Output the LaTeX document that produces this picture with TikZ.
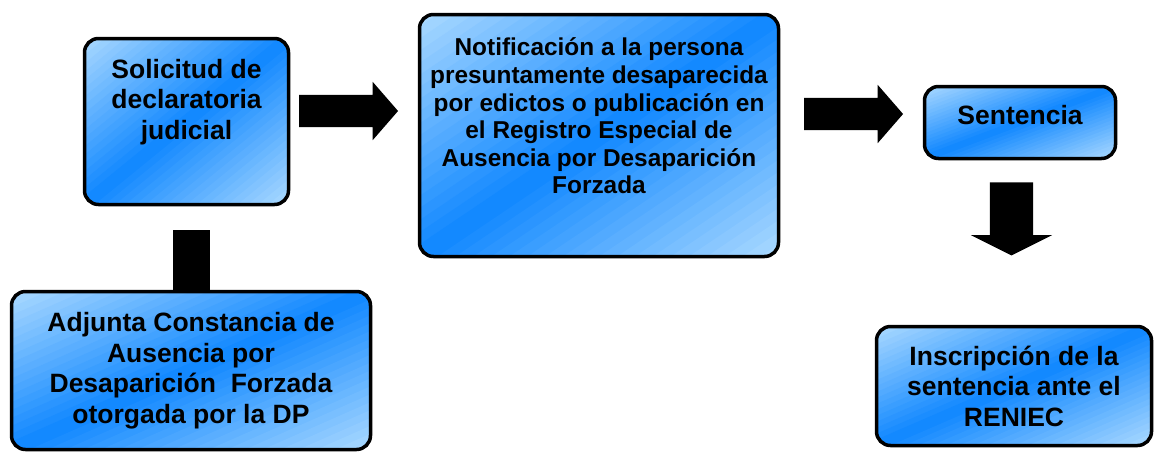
\documentclass[tikz,border=0pt]{standalone}
\usepackage{fontspec}
\setmainfont{Liberation Sans}
\usetikzlibrary{shapes.arrows,positioning}
\definecolor{lite}{RGB}{172,218,255}
\definecolor{deep}{RGB}{15,135,255}
\tikzset{
  box/.style={draw=black,line width=3.5pt,rounded corners=14pt},
  lbl/.style={align=center,inner sep=0pt,font=\bfseries\fontsize{26.5}{30.5}\selectfont},
  small lbl/.style={lbl,font=\bfseries\fontsize{24.4}{27.6}\selectfont},
  blockarrow/.style={single arrow,fill=black,inner xsep=0pt,inner ysep=16pt,single arrow head extend=13pt,single arrow tip angle=98,minimum height=99pt}
}
\begin{document}
\begin{tikzpicture}[x=1pt,y=-1pt]
\useasboundingbox (0,0) rectangle (1155,453);
% diagonal gradient of the boxes: light corners, deep band from lower left to upper right
\foreach \cx/\cy/\w/\h in {186.5/121.5/204/166,599/135.5/359/242,1020/122.5/191/72,191/370.5/359/158,1014/386/275/119}{
  \begin{scope}
    \clip[rounded corners=14pt] ({\cx-\w/2},{\cy-\h/2}) rectangle ({\cx+\w/2},{\cy+\h/2});
    \foreach \k in {0,...,39}{
      \pgfmathsetmacro\ga{\k/20}
      \pgfmathsetmacro\gb{(\k+1.3)/20}
      \pgfmathsetmacro\pc{100-abs(\k+0.5-20)*5}
      \fill[deep!\pc!lite] ({\cx-\w/2+(\ga+1)*\w},{\cy-1.5*\h}) -- ({\cx-\w/2+(\gb+1)*\w},{\cy-1.5*\h}) -- ({\cx-\w/2+(\gb-2)*\w},{\cy+1.5*\h}) -- ({\cx-\w/2+(\ga-2)*\w},{\cy+1.5*\h}) -- cycle;
    }
  \end{scope}
}
% boxes
\node[box,minimum width=204pt,minimum height=166pt] (sol) at (186.5,121.5) {};
\node[box,minimum width=359pt,minimum height=242pt] (noti) at (599,135.5) {};
\node[box,minimum width=191pt,minimum height=72pt] (sen) at (1020,122.5) {};
\node[box,lbl,minimum width=359pt,minimum height=158pt] (adj) at (191,370.5) {Adjunta Constancia de\\Ausencia por\\Desaparición\ \ Forzada\\otorgada por la DP};
\node[box,lbl,minimum width=275pt,minimum height=119pt] (ins) at (1014,386) {Inscripción de la\\sentencia ante el\\RENIEC};
% texts of the upper boxes
\node[lbl,below=22pt of sol.north] (solt) {Solicitud de\\declaratoria\\judicial};
\node[small lbl,below=25pt of noti.north] (notit) {Notificación a la persona\\presuntamente desaparecida\\por edictos o publicación en\\el Registro Especial de\\Ausencia por Desaparición\\Forzada};
\node[lbl,below=20pt of sen.north] (sent) {Sentencia};
% block arrows
\node[blockarrow] (a1) at (341.5,111) {};
\node[blockarrow] (a2) at (846.5,114) {};
\node[blockarrow,shape border rotate=270,inner sep=21.5pt,single arrow head extend=19pt,single arrow tip angle=127,minimum height=73pt] (a3) at (1011.5,213.5) {};
\coordinate (bar) at (191,230);
\draw[line width=37pt] (bar) -- (adj.north);
\end{tikzpicture}
\end{document}
